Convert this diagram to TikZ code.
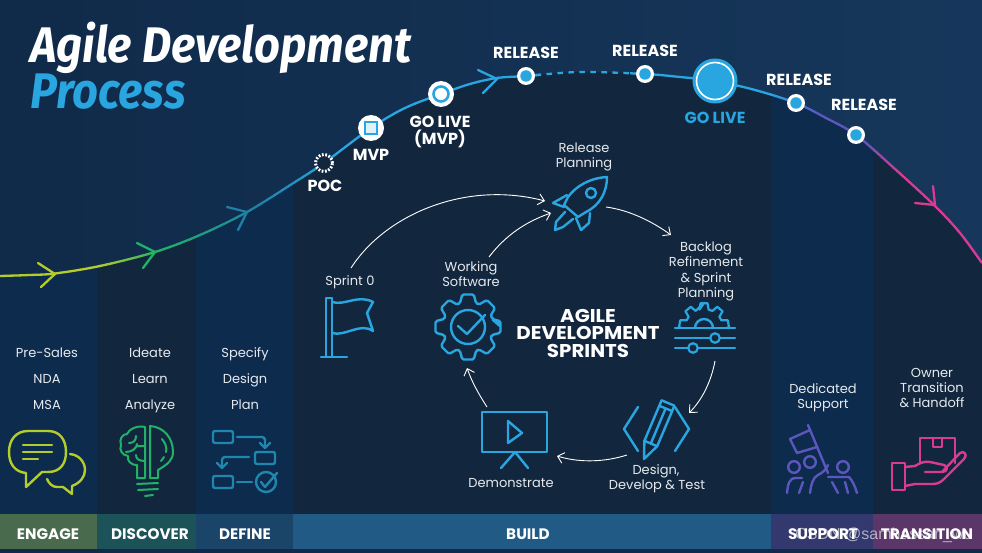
\documentclass[tikz,border=0pt]{standalone}
\usepackage{fontspec}
\setmainfont{Poppins}
\newfontfamily\titlefont{Fira Sans}
\newfontfamily\wmfont{Liberation Sans}
\usetikzlibrary{arrows.meta,calc}
\definecolor{bgleft}{HTML}{102A49}
\definecolor{bgright}{HTML}{16375B}
\definecolor{colA}{HTML}{0D2B4D}
\definecolor{colB}{HTML}{12273E}
\definecolor{lime}{HTML}{B4CC2C}
\definecolor{grn}{HTML}{20B368}
\definecolor{teal}{HTML}{1F7FA6}
\definecolor{sky}{HTML}{29A5E0}
\definecolor{tealic}{HTML}{1F86AE}
\definecolor{purp}{HTML}{5C56BE}
\definecolor{pinkc}{HTML}{D93A92}
\definecolor{txt}{HTML}{E6EAEE}
\definecolor{barA}{HTML}{4A6A4E}
\definecolor{barB}{HTML}{1C5358}
\definecolor{barC}{HTML}{1A4468}
\definecolor{barD}{HTML}{215B85}
\definecolor{barE}{HTML}{33386F}
\definecolor{barF}{HTML}{5A3768}
\tikzset{
  x=1pt,y=-1pt,
  lbl/.style={text=txt,font=\fontsize{13}{14}\selectfont,inner sep=0pt,anchor=center,text height=9.5pt,text depth=3pt,yshift=-1.2pt},
  big/.style={text=white,font=\fontsize{16}{16}\selectfont\bfseries,inner sep=0pt,anchor=center,text height=11pt,text depth=3pt,yshift=-1.8pt},
  barlbl/.style={text=white,font=\fontsize{15.2}{16}\selectfont\bfseries,inner sep=0pt,anchor=center},
  sprint/.style={text=white,font=\fontsize{18.5}{19}\selectfont\bfseries,inner sep=0pt,anchor=center,text height=13pt,text depth=0pt},
  icon/.style={line width=2.4pt,line join=round,line cap=round},
  flow/.style={white,line width=.9pt,-{Straight Barb[length=6pt,width=11pt]}},
  chev/.style={line width=2.3pt,line cap=round,line join=miter},
}
\newcommand{\maincurve}{plot[smooth,tension=.55] coordinates {(0,276)(30,275)(55,273.5)(100,266)(155,252)(200,235)(247,212)(295,182)(324,163)(371,128)(405,108)(441,94)(470,84)(497,78)(526,76)(580,72)(645,74)(680,77)(715,81)(755,90)(796,103)(826,118)(856,135)(895,169)(935,206)(960,233)(982,263)}}
\newcommand{\gearpath}[5]{% r inner, r outer, step, half-top, half-base
  \foreach \a in {0,#3,...,359}{ -- (\a-#5:#1) -- (\a-#4:#2) -- (\a+#4:#2) -- (\a+#5:#1)} -- cycle}
\begin{document}
\begin{tikzpicture}
\useasboundingbox (0,0) rectangle (982,553);
% background
\fill[left color=bgleft,right color=bgright] (0,0) rectangle (982,553);
\begin{scope}
  \clip \maincurve -- (982,514) -- (0,514) -- cycle;
  \fill[colA] (0,0) rectangle (97,514);
  \fill[colB] (97,0) rectangle (196,514);
  \fill[colA] (196,0) rectangle (293,514);
  \fill[colB] (293,0) rectangle (771,514);
  \fill[colA] (771,0) rectangle (873,514);
  \fill[colB] (873,0) rectangle (982,514);
\end{scope}
% bottom bar
\fill[barA] (0,514) rectangle (97,549);
\fill[barB] (97,514) rectangle (196,549);
\fill[barC] (196,514) rectangle (293,549);
\fill[barD] (293,514) rectangle (771,549);
\fill[barE] (771,514) rectangle (873,549);
\fill[barF] (873,514) rectangle (982,549);
\fill[bgleft] (0,549) rectangle (982,553);
\node[barlbl] (bEngage) at (48,534) {ENGAGE};
\node[barlbl] (bDiscover) at (150,534) {DISCOVER};
\node[barlbl] (bDefine) at (245,534) {DEFINE};
\node[barlbl] (bBuild) at (528,534) {BUILD};
\node[barlbl] (bSupport) at (823,534) {SUPPORT};
\node[barlbl] (bTransition) at (927,534) {TRANSITION};
\node[inner sep=0pt,text=white,opacity=.6,font=\wmfont\fontsize{16}{16}\selectfont] (wm) at (884,535) {CSDN @samhassan\_wu};
% title
\node[inner sep=0pt,anchor=west,text=white,font=\titlefont\fontsize{50}{50}\selectfont\bfseries\itshape] (t1) at (30,48) {\scalebox{.905}[1]{Agile Development}};
\node[inner sep=0pt,anchor=west,text=sky,font=\titlefont\fontsize{50}{50}\selectfont\bfseries\itshape] (t2) at (30,92) {\scalebox{.905}[1]{Process}};
% main curve, coloured band by band
\foreach \xa/\xb/\ca/\cb in {0/100/lime/lime,100/160/lime/grn,160/260/grn/teal,260/330/teal/sky,330/540/sky/sky,630/770/sky/sky,770/820/sky/purp,820/862/purp/purp,862/900/purp/pinkc,900/982/pinkc/pinkc}{
  \foreach \i in {0,...,9}{
    \pgfmathsetmacro\ba{\xa+\i*(\xb-\xa)/10}
    \pgfmathsetmacro\bb{\xa+(\i+1)*(\xb-\xa)/10+.6}
    \pgfmathsetmacro\pc{\i*10+5}
    \begin{scope}
      \clip (\ba,0) rectangle (\bb,553);
      \draw[line width=2.3pt,color=\cb!\pc!\ca] \maincurve;
    \end{scope}
  }
}
\begin{scope}
  \clip (535,0) rectangle (636,553);
  \draw[line width=2.3pt,sky,dash pattern=on 5.5pt off 5.5pt] \maincurve;
\end{scope}
% chevrons on the curve
\coordinate (tipA) at (55,274);
\coordinate (tipB) at (155,252);
\coordinate (tipC) at (247,212);
\coordinate (tipD) at (497,79);
\coordinate (tipE) at (935,205);
\draw[chev,lime] (38,263) -- (tipA) -- (41,287);
\draw[chev,grn] (137,243) -- (tipB) -- (143,268);
\draw[chev,teal] (227,207) -- (tipC) -- (238,230);
\draw[chev,sky] (478,70) -- (tipD) -- (483,93);
\draw[chev,pinkc] (933,186) -- (tipE) -- (915,203);
% milestones
\node[circle,draw=white,fill=colB,dash pattern=on 1.8pt off 1.6pt,line width=3pt,minimum size=17pt,inner sep=0pt] (poc) at (324,163) {};
\node[circle,fill=white,minimum size=26pt,inner sep=0pt] (mvp) at (371,128) {};
\node[draw=sky,fill=white!85!sky,line width=2.6pt,minimum size=12pt,inner sep=0pt] (mvpin) at (371,128) {};
\node[circle,fill=white,minimum size=26pt,inner sep=0pt] (gomvp) at (441,94) {};
\node[circle,draw=sky,fill=white,line width=2.6pt,minimum size=15pt,inner sep=0pt] (gomvpin) at (441,94) {};
\foreach \n/\p in {ra/{526,76},rb/{645,74},rc/{796,103},rd/{856,135}}{
  \node[circle,fill=white,minimum size=18pt,inner sep=0pt] (\n) at (\p) {};
  \node[circle,fill=sky,minimum size=11.5pt,inner sep=0pt] (\n in) at (\p) {};
}
\node[circle,fill=sky,minimum size=45pt,inner sep=0pt] (gl) at (715,81) {};
\node[circle,draw=white,fill=sky,line width=1.6pt,minimum size=37pt,inner sep=0pt] (glin) at (715,81) {};
% milestone labels
\node[big] (lPoc) at (325,186) {POC};
\node[big] (lMvp) at (371,155) {MVP};
\node[big] (lGo1) at (440,122) {GO LIVE};
\node[big] (lGo2) at (440,139) {(MVP)};
\node[big] (lRa) at (526,53) {RELEASE};
\node[big] (lRb) at (645,51) {RELEASE};
\node[big] (lRc) at (799,80) {RELEASE};
\node[big] (lRd) at (864,105) {RELEASE};
\node[big,text=sky] (lGl) at (715,118) {GO LIVE};
% column texts
\node[lbl] (a1) at (47,353) {Pre-Sales};
\node[lbl] (a2) at (47,379) {NDA};
\node[lbl] (a3) at (47,405) {MSA};
\node[lbl] (b1) at (150,353) {Ideate};
\node[lbl] (b2) at (150,379) {Learn};
\node[lbl] (b3) at (150,405) {Analyze};
\node[lbl] (c1) at (245,353) {Specify};
\node[lbl] (c2) at (245,379) {Design};
\node[lbl] (c3) at (245,405) {Plan};
\node[lbl] (d1) at (823,389) {Dedicated};
\node[lbl] (d2) at (823,404) {Support};
\node[lbl] (e1) at (932,373) {Owner};
\node[lbl] (e2) at (932,388) {Transition};
\node[lbl] (e3) at (932,403) {\& Handoff};
% cycle texts
\node[lbl] (s1) at (584,148) {Release};
\node[lbl] (s2) at (584,163) {Planning};
\node[lbl] (s3) at (706,247) {Backlog};
\node[lbl] (s4) at (706,262) {Refinement};
\node[lbl] (s5) at (706,278) {\& Sprint};
\node[lbl] (s6) at (706,293) {Planning};
\node[lbl] (s7) at (350,281) {Sprint 0};
\node[lbl] (s8) at (471,267) {Working};
\node[lbl] (s9) at (471,282) {Software};
\node[lbl] (s10) at (656,470) {Design,};
\node[lbl] (s11) at (657,485) {Develop \& Test};
\node[lbl] (s12) at (511,483) {Demonstrate};
\node[sprint] (h1) at (588,316) {\scalebox{1.07}[1]{AGILE}};
\node[sprint] (h2) at (588,333) {\scalebox{1.07}[1]{DEVELOPMENT}};
\node[sprint] (h3) at (588,351) {\scalebox{1.07}[1]{SPRINTS}};
% cycle arrows
\coordinate (f1a) at (351,268); \coordinate (f1b) at (545,201);
\coordinate (f2a) at (489,257); \coordinate (f2b) at (551,213);
\coordinate (f3a) at (606,207); \coordinate (f3b) at (671,235);
\coordinate (f4a) at (715,361); \coordinate (f4b) at (689,413);
\coordinate (f5a) at (627,455); \coordinate (f5b) at (557,456);
\coordinate (f6a) at (487,407); \coordinate (f6b) at (467,368);
\draw[flow] (f1a) .. controls (385,215) and (465,180) .. (f1b);
\draw[flow] (f2a) .. controls (505,236) and (525,222) .. (f2b);
\draw[flow] (f3a) .. controls (628,210) and (650,220) .. (f3b);
\draw[flow] (f4a) .. controls (711,382) and (702,400) .. (f4b);
\draw[flow] (f5a) .. controls (605,462) and (580,463) .. (f5b);
\draw[flow] (f6a) .. controls (478,393) and (472,382) .. (f6b);
% ---- icons ----
% speech bubbles
\draw[icon,lime] (26,473) -- (26,487) -- (42,472) -- (48,472) .. controls (60,472) and (66,464) .. (66,452) .. controls (66,440) and (60,431) .. (48,431) -- (28,431) .. controls (16,431) and (9,440) .. (9,452) .. controls (9,464) and (15,472) .. (26,473);
\draw[icon,lime] (23,445) -- (52,445) (23,452) -- (52,452) (23,459) -- (38,459);
\draw[icon,lime] (70,454) .. controls (80,455) and (85,463) .. (85,470) .. controls (85,477) and (80,483) .. (72,486) -- (72,494) -- (63,487) -- (57,487) .. controls (53,487) and (49,484) .. (47,479);
% brain bulb
\draw[icon,grn,line width=2pt] (150,426) .. controls (164,427) and (173,438) .. (173,452) .. controls (173,460) and (168,464) .. (158,470) -- (158,478) -- (150,478) -- cycle;
\draw[icon,grn,line width=2pt] (162,439) .. controls (166,444) and (167,448) .. (166,452) (164,457) -- (161,461);
\draw[icon,grn,line width=2pt] (145,427) -- (145,478) -- (137,478) -- (137,465) .. controls (130,465) and (127,460) .. (128,456) .. controls (122,455) and (119,450) .. (121,445) .. controls (119,440) and (122,434) .. (127,434) .. controls (129,429) and (138,425) .. (145,427);
\draw[icon,grn,line width=2pt] (136,436) .. controls (136,441) and (133,443) .. (129,443) (126,452) .. controls (132,452) and (137,448) .. (137,444) (145,446) -- (137,446) (136,455) .. controls (136,459) and (139,461) .. (145,461);
\draw[icon,grn,line width=2pt] (137,484) -- (158,483) (138,490) -- (158,489) (145,496) -- (153,495);
% flow icon
\begin{scope}[tealic]
\draw[icon,rounded corners=2pt] (213,431) rectangle (233,443);
\draw[icon,rounded corners=2pt] (255,452) rectangle (275,464);
\draw[icon,rounded corners=2pt] (213,476) rectangle (233,488);
\draw[icon,rounded corners=3pt] (237,437) -- (265,437) -- (265,447);
\draw[icon] (260,443) -- (265,448) -- (270,443);
\draw[icon,rounded corners=3pt] (249,457) -- (222,457) -- (222,467);
\draw[icon] (217,463) -- (222,468) -- (227,463);
\draw[icon] (237,482) -- (252,482);
\draw[icon] (266,482) circle (10);
\draw[icon] (261,482) -- (265,487) -- (277,473);
\end{scope}
% support flag and people
\begin{scope}[purp]
\draw[icon] (808,425) -- (828,473);
\draw[icon] (810,430) -- (790,439) -- (797,453) -- (817,447);
\draw[icon] (794,467) circle (5.8);
\draw[icon] (810,462) circle (5.8);
\draw[icon] (843,467) circle (5.8);
\draw[icon] (787,493) .. controls (788,484) and (789,478) .. (796,478) -- (802,478);
\draw[icon] (803,482) -- (799,493);
\draw[icon] (810,493) .. controls (811,485) and (813,477) .. (818,475) .. controls (822,473) and (826,470) .. (828,465);
\draw[icon] (828,477) -- (849,477) .. controls (852,480) and (855,486) .. (857,493);
\draw[icon] (832,482) -- (838,493) (845,482) -- (848,493);
\end{scope}
% hand and parcel
\begin{scope}[pinkc]
\draw[icon] (892,463) rectangle (905,490);
\draw[icon] (920,462) -- (920,438) -- (955,438) -- (955,463);
\draw[icon] (933,438) -- (933,447) -- (942,447) -- (942,438);
\draw[icon] (905,467) -- (915,466) .. controls (920,463) and (924,461) .. (930,462) -- (944,465) .. controls (948,466) and (948,472) .. (942,472) -- (925,472);
\draw[icon] (942,472) -- (960,453) .. controls (964,450) and (968,455) .. (964,459) -- (944,479) .. controls (940,483) and (937,484) .. (932,484) -- (915,484) -- (905,486);
\end{scope}
% rocket
\begin{scope}[sky]
\draw[icon] (607,177) .. controls (590,178) and (576,186) .. (568,197) -- (564,205) -- (578,217) -- (586,212) .. controls (600,205) and (607,192) .. (607,177) -- cycle;
\draw[icon] (591,193) circle (5);
\draw[icon] (567,195) -- (553,203) -- (564,207);
\draw[icon] (590,213) -- (589,223) -- (581,230) -- (576,218);
\draw[icon] (565,212) -- (556,222) -- (555,230) -- (563,227) -- (573,219);
\end{scope}
% backlog gear and sliders
\begin{scope}[sky]
\begin{scope}
\clip (670,295) rectangle (740,328);
\draw[icon] (704,328) circle (9);
\begin{scope}[shift={(704,328)},rotate=90]
\draw[icon,line width=2.2pt] (0:25) \gearpath{19}{25}{40}{8}{14};
\end{scope}
\end{scope}
\draw[icon] (675,328) -- (735,328);
\draw[icon] (675,338) -- (735,338);
\draw[icon] (675,348) -- (735,348);
\node[circle,draw=sky,fill=colB,line width=2.2pt,minimum size=9.5pt,inner sep=0pt] (k1) at (715,338) {};
\node[circle,draw=sky,fill=colB,line width=2.2pt,minimum size=9.5pt,inner sep=0pt] (k2) at (693,348) {};
\end{scope}
% pencil and brackets
\begin{scope}[sky]
\draw[icon] (638,407) -- (624,429) -- (638,451);
\draw[icon] (675,407) -- (689,429) -- (675,451);
\draw[icon] (674.4,405.7) -- (661.6,400.3) -- (644.4,440.8) -- (644,459) -- (657.2,446.2) -- cycle;
\draw[icon] (672,411) -- (659.2,405.8);
\draw[icon] (665.6,408.5) -- (650.8,443.5);
\draw[icon] (644.4,440.8) -- (657.2,446.2);
\end{scope}
% screen
\begin{scope}[sky]
\draw[icon,line cap=butt] (482,412) rectangle (547,452);
\draw[icon] (508,421) -- (522,433) -- (508,443) -- cycle;
\draw[icon] (501,468) -- (515,452) -- (528,468);
\end{scope}
% working gear
\begin{scope}[sky,shift={(468,327)}]
\draw[icon,rounded corners=1.5pt] (0:33) \gearpath{25}{33}{45}{10}{19};
\draw[icon] (0,0) circle (17);
\draw[icon] (-10,-1) -- (-1,7) -- (17,-12);
\end{scope}
% flag
\begin{scope}[sky]
\draw[icon] (326,298) -- (326,357) (332,298) -- (332,357) (326,298) -- (332,298);
\draw[icon] (321,357) -- (347,357);
\draw[icon] (332,302) .. controls (345,306) and (358,294) .. (373,302) -- (367,313) -- (373,331) .. controls (360,322) and (345,337) .. (332,333);
\end{scope}
\end{tikzpicture}
\end{document}
